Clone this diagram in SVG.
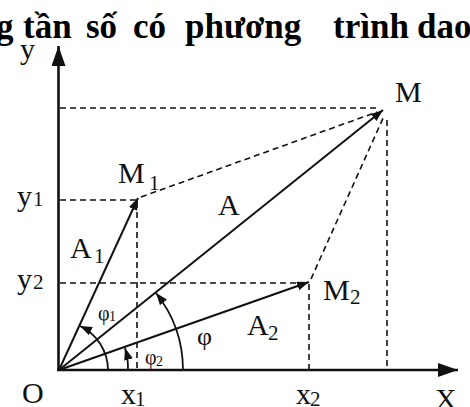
<svg xmlns="http://www.w3.org/2000/svg" width="470" height="407" viewBox="0 0 470 407">
<style>
  .lbl { font-family: "Liberation Serif", "DejaVu Serif", serif; font-size: 30px; fill: #111; }
  .sub { font-family: "Liberation Serif", "DejaVu Serif", serif; font-size: 21px; fill: #111; }
  .ang { font-family: "Liberation Serif", "DejaVu Serif", serif; fill: #111; }
  .axis { stroke: #111; stroke-width: 2.6; fill: none; }
  .vec { stroke: #111; stroke-width: 2; fill: none; }
  .dash { stroke: #111; stroke-width: 1.6; stroke-dasharray: 6 4; fill: none; }
  .arc { stroke: #111; stroke-width: 1.8; fill: none; }
  .title { font-family: "Liberation Serif", "Times New Roman", serif; font-size: 35px; font-weight: bold; fill: #000; }
</style>
<defs>
  <marker id="axArrow" markerUnits="userSpaceOnUse" markerWidth="20" markerHeight="14" refX="20" refY="7" orient="auto">
    <path d="M0,0 L20,7 L0,14 z" fill="#111"/>
  </marker>
  <marker id="arr" markerUnits="userSpaceOnUse" markerWidth="12" markerHeight="9" refX="12" refY="4.5" orient="auto">
    <path d="M0,0 L12,4.5 L0,9 z" fill="#111"/>
  </marker>
</defs>
<rect width="470" height="407" fill="#fff"/>

<g id="axes">
  <line class="axis" x1="58.5" y1="371" x2="58.5" y2="46" marker-end="url(#axArrow)"/>
  <line class="axis" x1="57" y1="370" x2="458" y2="370" marker-end="url(#axArrow)"/>
  <text class="lbl" x="20" y="59">y</text>
  <text class="lbl" x="435" y="409" font-size="26">X</text>
</g>

<g id="connectors">
  <line class="dash" x1="60" y1="108" x2="380" y2="108"/>
  <line class="dash" x1="60" y1="200" x2="137" y2="200"/>
  <line class="dash" x1="60" y1="283" x2="306" y2="283"/>
  <line class="dash" x1="137" y1="202" x2="137" y2="369"/>
  <line class="dash" x1="309" y1="284" x2="309" y2="369"/>
  <line class="dash" x1="387" y1="120" x2="387" y2="369"/>
  <line class="dash" x1="141" y1="197" x2="377" y2="112"/>
  <line class="dash" x1="311" y1="279" x2="384" y2="116"/>
  <line class="vec" x1="59" y1="370" x2="138" y2="198" marker-end="url(#arr)"/>
  <line class="vec" x1="59" y1="370" x2="383" y2="110" marker-end="url(#arr)"/>
  <line class="vec" x1="59" y1="370" x2="309" y2="282" marker-end="url(#arr)"/>
  <path class="arc" d="M108,370 A49,49 0 0 0 80,326" marker-end="url(#arr)"/>
  <path class="arc" d="M128,370 A69,69 0 0 0 125,348" marker-end="url(#arr)"/>
  <path class="arc" d="M183,370 A124,124 0 0 0 156,293" marker-end="url(#arr)"/>
</g>

<g id="node-O">
  <text class="lbl" x="22" y="403">O</text>
</g>
<g id="node-M">
  <text class="lbl" x="395" y="102">M</text>
</g>
<g id="node-M1">
  <text class="lbl" x="118" y="183">M</text>
  <text class="sub" x="149" y="190">1</text>
</g>
<g id="node-M2">
  <text class="lbl" x="323" y="300">M</text>
  <text class="sub" x="350" y="304">2</text>
</g>
<g id="label-A">
  <text class="lbl" x="218" y="215">A</text>
</g>
<g id="label-A1">
  <text class="lbl" x="70" y="258">A</text>
  <text class="sub" x="94" y="263">1</text>
</g>
<g id="label-A2">
  <text class="lbl" x="247" y="335">A</text>
  <text class="sub" x="268" y="340">2</text>
</g>
<g id="label-y1">
  <text class="lbl" x="17" y="206">y</text>
  <text class="sub" x="33" y="206">1</text>
</g>
<g id="label-y2">
  <text class="lbl" x="17" y="289">y</text>
  <text class="sub" x="33" y="289">2</text>
</g>
<g id="label-x1">
  <text class="lbl" x="121" y="404">x</text>
  <text class="sub" x="135" y="406">1</text>
</g>
<g id="label-x2">
  <text class="lbl" x="296" y="404">x</text>
  <text class="sub" x="310" y="406">2</text>
</g>
<g id="label-phi">
  <text class="ang" x="197" y="345" font-size="26">φ</text>
</g>
<g id="label-phi1">
  <text class="ang" x="98" y="320" font-size="20">φ</text>
  <text class="ang" x="109" y="321" font-size="14">1</text>
</g>
<g id="label-phi2">
  <text class="ang" x="145" y="364" font-size="20">φ</text>
  <text class="ang" x="156" y="366" font-size="14">2</text>
</g>

<text class="title" y="38"><tspan x="-4">g</tspan> <tspan x="23">tần</tspan> <tspan x="86">số</tspan> <tspan x="133">có</tspan> <tspan x="185">phương</tspan> <tspan x="333">trình</tspan> <tspan x="417">dao</tspan></text>
</svg>
